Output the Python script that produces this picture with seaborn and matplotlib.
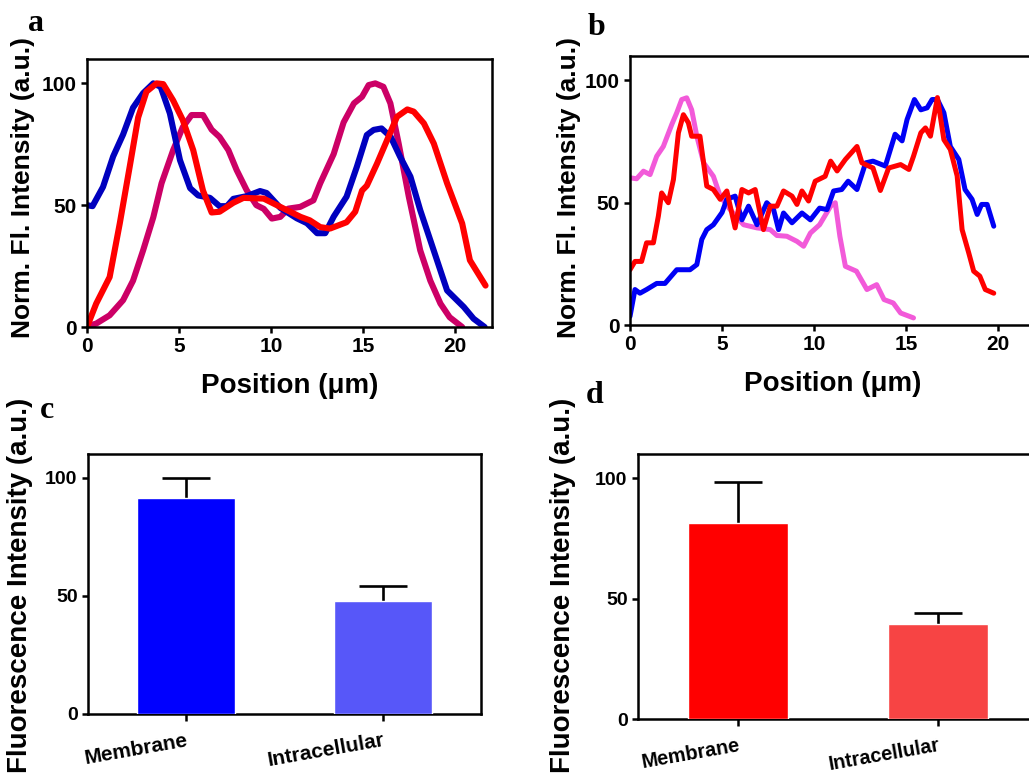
import numpy as np
import pandas as pd
import matplotlib
matplotlib.use("Agg")
import matplotlib.pyplot as plt
import seaborn as sns

# ---------------- data ----------------
# Panel a: line profiles
a_blue_x = [0, 0.3, 0.87, 1.42, 1.96, 2.5, 3.05, 3.6, 4.0, 4.5, 5.05, 5.6, 6.04, 6.68, 7.2, 7.6, 7.95, 8.67, 9.4, 9.76,
            10.5, 11.4, 11.95, 12.5, 12.94, 13.4, 14.1, 14.66, 15.2, 15.57, 16.0, 16.5, 17.0, 17.57, 18.1, 18.65,
            19.56, 20.47, 21.0, 21.6]
a_blue_y = [50, 49.6, 57.5, 70, 79, 90, 96, 100, 98.6, 87.7, 68.5, 57, 54, 53, 49.6, 49.6, 52.6, 53.7, 55.8, 55,
            48.9, 44.6, 42.6, 38.5, 38.5, 45.3, 53.5, 65.8, 78.8, 80.9, 81.5, 78, 70, 61.7, 48, 35.6,
            15, 8.2, 3.4, 0]
a_red_x = [0, 0.5, 1.23, 1.78, 2.32, 2.78, 3.23, 3.78, 4.14, 4.68, 5.2, 5.77, 6.3, 6.77, 7.2, 7.95, 8.5, 9.6, 10.5,
           11.6, 12.1, 12.67, 13.2, 14.1, 14.57, 14.94, 15.2, 15.75, 16.3, 16.84, 17.4, 17.75, 18.3, 18.84,
           19.56, 20.38, 20.8, 21.65]
a_red_y = [0, 9.6, 20.5, 42.5, 65.8, 86, 96.6, 100, 99.7, 93, 85, 72.6, 56, 47, 47.3, 51, 53, 52.7, 49.3,
           45.2, 43.8, 41, 40.4, 43, 47.3, 56, 58, 67, 76.7, 86.3, 89.3, 88.4, 83.6, 75.3,
           59, 42.5, 27.4, 17]
a_crimson_x = [0, 0.5, 1.23, 1.96, 2.5, 3.05, 3.6, 4.05, 4.68, 5.2, 5.68, 6.3, 6.77, 7.2, 7.68, 8.13, 8.67, 9.2, 9.6,
               10.04, 10.5, 10.94, 11.58, 12.3, 12.67, 13.4, 13.94, 14.5, 14.94, 15.3, 15.66, 16.1, 16.48, 16.93,
               17.48, 18.1, 18.65, 19.2, 19.7, 20.38]
a_crimson_y = [0.3, 1.4, 4.8, 11, 19, 31.5, 45, 59, 72.6, 82, 87, 87, 81, 78, 72.6, 64.4, 56.2, 50, 48.5,
               44.5, 45.2, 48.6, 49.3, 52, 59, 71, 84, 91.8, 94.5, 99.3, 100, 98.6, 91.8, 75.3,
               53.5, 31.5, 19, 9.6, 4, 0]

# Panel b: line profiles
b_pink_x = [0, 0.36, 0.73, 1.09, 1.45, 1.81, 2.27, 2.54, 2.81, 3.08, 3.35, 3.63, 4.0, 4.53, 4.9, 5.44, 6.17, 6.9,
            7.62, 7.98, 8.52, 9.07, 9.43, 9.8, 10.3, 10.9, 11.15, 11.4, 11.7, 12.3, 12.87, 13.4, 13.8, 14.3,
            14.7, 15.4]
b_pink_y = [60.2, 59.8, 62.9, 61.5, 69, 73, 82, 86.8, 92.2, 92.9, 88, 77.2, 66.3, 60.8, 52.7, 47.2, 41, 39.7,
            39, 36.6, 36.3, 34.2, 32.2, 37.6, 41, 48.6, 50, 36.3, 24, 22, 14.5, 16.5, 10.4, 9,
            4.9, 2.9]
b_red_x = [0, 0.27, 0.63, 0.9, 1.27, 1.54, 1.72, 2.08, 2.36, 2.63, 2.9, 3.17, 3.35, 3.8, 4.17, 4.53, 4.9, 5.26,
           5.71, 6.08, 6.44, 6.8, 7.25, 7.62, 7.98, 8.34, 8.8, 9.07, 9.34, 9.7, 10.06, 10.6, 10.9, 11.25,
           11.7, 12.33, 12.6, 13.2, 13.6, 14.05, 14.7, 15.15, 15.4, 15.8, 16.05, 16.32, 16.7, 17.05, 17.4,
           17.77, 18.04, 18.4, 18.67, 19.0, 19.3, 19.76]
b_red_y = [22.6, 26, 26, 33.6, 33.6, 44.5, 54, 50, 59.5, 78.6, 86, 82.7, 77.2, 77.2, 56.8, 55.4, 51.4, 54.8,
           39.7, 55.4, 54, 55.4, 39, 48.6, 48.6, 54.8, 52.7, 49.3, 54.8, 50.7, 58.8, 60.8, 67, 63,
           67.7, 73, 66.3, 64.2, 55, 64.2, 65.6, 63.6, 69, 78.6, 80.6, 77.2, 93, 75.8, 71.8,
           61, 39, 29.5, 22, 20, 14.5, 13]
b_blue_x = [0, 0.27, 0.54, 0.9, 1.45, 1.9, 2.54, 3.26, 3.63, 3.9, 4.17, 4.53, 5.0, 5.26, 5.71, 6.08, 6.44, 6.9,
            7.43, 7.8, 8.07, 8.34, 8.8, 9.34, 9.8, 10.3, 10.7, 11.06, 11.5, 11.85, 12.33, 12.8, 13.2, 13.87,
            14.4, 14.78, 15.05, 15.45, 15.8, 16.14, 16.41, 16.7, 17.05, 17.4, 17.86, 18.2, 18.58, 18.86,
            19.1, 19.4, 19.76]
b_blue_y = [3.5, 14.5, 13, 14.5, 17, 17, 22.6, 22.6, 24.7, 35, 39, 41, 46, 51.4, 52.7, 43, 48.6, 41,
            50, 47.2, 39, 45.8, 41.8, 45.8, 43, 47.8, 47.2, 54.8, 55.4, 58.8, 55.4, 66.3, 67, 65,
            78, 75.3, 84, 92.2, 88, 88.8, 92.2, 92.2, 86.8, 73, 67.7, 55.4, 51.4, 45.2,
            49.3, 49.3, 40.4]

# Panels c, d: bar charts
categories = ["Membrane", "Intracellular"]
c_means = [91.5, 48]
c_errs = [8.5, 6]
d_means = [81.3, 39.4]
d_errs = [17, 4.6]

# ---------------- style ----------------
sns.set_theme(style="ticks")
plt.rcParams["font.family"] = ["Liberation Sans", "DejaVu Sans"]
plt.rcParams["font.weight"] = "bold"
plt.rcParams["axes.labelweight"] = "bold"
plt.rcParams["axes.linewidth"] = 1.8
plt.rcParams["xtick.major.width"] = 1.8
plt.rcParams["ytick.major.width"] = 1.8
plt.rcParams["xtick.major.size"] = 4
plt.rcParams["ytick.major.size"] = 4
plt.rcParams["xtick.color"] = "black"
plt.rcParams["ytick.color"] = "black"
plt.rcParams["xtick.labelcolor"] = "black"
plt.rcParams["ytick.labelcolor"] = "black"
plt.rcParams["axes.edgecolor"] = "black"
plt.rcParams["axes.labelcolor"] = "black"
plt.rcParams["text.color"] = "black"

W, H = 1029, 776
fig = plt.figure(figsize=(W / 100, H / 100), dpi=100)


def px_axes(left, top, right, bottom):
    return fig.add_axes([left / W, 1 - bottom / H, (right - left) / W, (bottom - top) / H])


ax_a = px_axes(87, 59, 492, 327)
ax_b = px_axes(630, 56, 1035, 325)
ax_c = px_axes(88, 454, 481, 714)
ax_d = px_axes(638, 454, 1038, 719)

# ---- panel a ----
for xs, ys, col in [(a_crimson_x, a_crimson_y, "#CC0066"),
                    (a_blue_x, a_blue_y, "#0000BE"),
                    (a_red_x, a_red_y, "#FF0000")]:
    sns.lineplot(x=xs, y=ys, ax=ax_a, color=col, linewidth=4.4, sort=False, estimator=None)

# ---- panel b ----
for xs, ys, col in [(b_pink_x, b_pink_y, "#F25AD9"),
                    (b_blue_x, b_blue_y, "#0000F5"),
                    (b_red_x, b_red_y, "#FF0000")]:
    sns.lineplot(x=xs, y=ys, ax=ax_b, color=col, linewidth=3.6, sort=False, estimator=None)

for ax, lx, ly, xlx, xly in [(ax_a, -0.158, 0.52, 0.5, -0.22), (ax_b, -0.151, 0.51, 0.5, -0.219)]:
    ax.set_xlim(0, 22)
    ax.set_ylim(0, 110)
    ax.set_xticks([0, 5, 10, 15, 20])
    ax.set_yticks([0, 50, 100])
    ax.tick_params(labelsize=15, width=1.8, length=4)
    for lab in ax.get_xticklabels() + ax.get_yticklabels():
        lab.set_fontweight("bold")
    ax.set_ylabel("Norm. Fl. Intensity (a.u.)", fontsize=19, fontweight="bold", va="center", ha="center")
    ax.yaxis.set_label_coords(lx, ly)
    ax.set_xlabel("Position (\u03bcm)", fontsize=20, fontweight="bold", va="center", ha="center")
    ax.xaxis.set_label_coords(xlx, xly)
    for s in ax.spines.values():
        s.set_linewidth(1.8)
        s.set_visible(True)

# ---- panels c, d ----
for ax, means, errs, pal, lx, ly, xfs in [
    (ax_c, c_means, c_errs, ["#0000FF", "#5757F9"], -0.173, 0.496, 15),
    (ax_d, d_means, d_errs, ["#FF0000", "#F74444"], -0.1875, 0.506, 14.3),
]:
    df = pd.DataFrame({"cat": categories, "val": means})
    sns.barplot(data=df, x="cat", y="val", hue="cat", palette=pal, width=0.5,
                legend=False, ax=ax, saturation=1, zorder=3)
    eb = ax.errorbar(x=np.arange(len(categories)), y=means,
                     yerr=[np.zeros(len(errs)), errs], fmt="none", ecolor="black",
                     elinewidth=1.9, capsize=17, capthick=1.9, zorder=2)
    caps = eb.lines[1]
    if len(caps) >= 2:
        caps[0].set_visible(False)  # hide the lower caps (one-sided error bars)
    ax.set_xlim(-0.5, 1.5)
    ax.set_ylim(0, 110)
    ax.set_yticks([0, 50, 100])
    ax.tick_params(axis="y", labelsize=14, width=1.8, length=4)
    ax.tick_params(axis="x", labelsize=xfs, width=1.8, length=5, pad=7)
    ax.set_xticks(range(len(categories)))
    ax.set_xticklabels(categories, rotation=10, ha="right", va="top",
                       rotation_mode="anchor", fontweight="bold")
    for lab in ax.get_yticklabels():
        lab.set_fontweight("bold")
    ax.set_xlabel("")
    ax.set_ylabel("Fluorescence Intensity (a.u.)", fontsize=20, fontweight="bold", va="center", ha="center")
    ax.yaxis.set_label_coords(lx, ly)
    for s in ax.spines.values():
        s.set_linewidth(1.8)
        s.set_visible(True)

# ---- panel letters ----
for letter, x, y in [("a", 36, 31), ("b", 597, 35), ("c", 47, 418), ("d", 595, 403)]:
    fig.text(x / W, 1 - y / H, letter, fontsize=23, fontweight="bold",
             family=["Liberation Serif", "DejaVu Serif"], ha="center", va="baseline")

fig.savefig("out.png", dpi=100)
